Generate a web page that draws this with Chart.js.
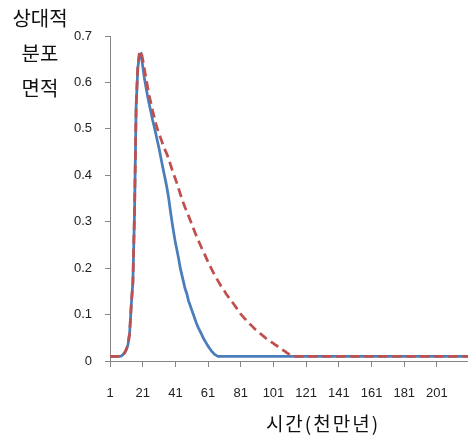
<!DOCTYPE html>
<html>
<head>
<meta charset="utf-8">
<script src="https://cdn.jsdelivr.net/npm/chart.js@4/dist/chart.umd.min.js"></script>
<style>
  html, body { margin: 0; padding: 0; background: #fff; }
  #wrap { width: 468px; height: 440px; }
</style>
</head>
<body>
<div id="wrap"><canvas id="myChart" width="468" height="440"></canvas></div>
<script>
// 축 제목
const yTitleLines = ['상대적', '분포', '면적'];
const xTitle = '시간(천만년)';

// x 눈금 (천만년)
const xTickLabels = [1, 21, 41, 61, 81, 101, 121, 141, 161, 181, 201];
const yTickLabels = [0, 0.1, 0.2, 0.3, 0.4, 0.5, 0.6, 0.7];

// 파란 실선
const blueTime = [1, 7, 8, 9, 10, 11, 12, 13, 14, 15, 16, 17, 18, 19, 20,
  21, 22, 23, 24, 25, 26, 27, 28, 29, 30, 31, 32, 33, 34, 35, 36, 37, 38, 39, 40,
  41, 42, 43, 44, 45, 46, 47, 48, 49, 50, 51, 52, 53, 54, 55, 56, 57, 58, 59, 60,
  61, 62, 63, 64, 65, 66, 67, 220];
const blueValues = [0.01, 0.01, 0.011, 0.014, 0.018, 0.025, 0.035, 0.06, 0.12, 0.17, 0.32, 0.55, 0.63, 0.66, 0.662,
  0.635, 0.61, 0.59, 0.57, 0.553, 0.537, 0.52, 0.505, 0.49, 0.474, 0.458, 0.44, 0.422, 0.405, 0.388, 0.37, 0.348, 0.322, 0.298, 0.276,
  0.255, 0.238, 0.22, 0.2, 0.185, 0.17, 0.155, 0.145, 0.13, 0.12, 0.11, 0.1, 0.09, 0.08, 0.072, 0.065, 0.058, 0.05, 0.044, 0.038,
  0.032, 0.027, 0.022, 0.018, 0.014, 0.012, 0.01, 0.01];

// 빨간 점선
const redTime = [1, 7, 8, 9, 10, 11, 12, 13, 14, 15, 16, 17, 18, 19, 20,
  21, 22, 23, 24, 25, 26, 27, 28, 29, 30, 31, 32, 33, 34, 35, 36, 37, 38, 39, 40,
  41, 42, 43, 44, 45, 46, 47, 48, 49, 50, 51, 52, 53, 54, 55, 56, 57, 58, 59, 60,
  61, 62, 63, 64, 65, 66, 67, 68, 69, 70, 71, 72, 73, 74, 75, 76, 77, 78, 79, 80,
  81, 82, 83, 84, 85, 86, 87, 88, 89, 90, 91, 92, 93, 94, 95, 96, 97, 98, 99, 100,
  101, 102, 103, 104, 105, 106, 107, 108, 109, 110, 111, 112, 113, 220];
const redValues = [0.01, 0.01, 0.011, 0.014, 0.018, 0.025, 0.035, 0.06, 0.12, 0.17, 0.32, 0.55, 0.635, 0.665, 0.667,
  0.65, 0.63, 0.61, 0.59, 0.572, 0.556, 0.54, 0.526, 0.512, 0.5, 0.49, 0.48, 0.47, 0.46, 0.452, 0.444, 0.434, 0.423, 0.412, 0.402,
  0.392, 0.382, 0.371, 0.36, 0.349, 0.339, 0.33, 0.322, 0.313, 0.304, 0.295, 0.286, 0.277, 0.268, 0.26, 0.252, 0.244, 0.236, 0.229, 0.221,
  0.213, 0.206, 0.199, 0.192, 0.185, 0.179, 0.173, 0.167, 0.161, 0.156, 0.151, 0.145, 0.14, 0.135, 0.13, 0.126, 0.121, 0.116, 0.111, 0.106,
  0.101, 0.097, 0.093, 0.089, 0.085, 0.081, 0.078, 0.075, 0.071, 0.068, 0.065, 0.062, 0.059, 0.056, 0.053, 0.05, 0.047, 0.045, 0.043, 0.04,
  0.038, 0.035, 0.033, 0.03, 0.028, 0.026, 0.023, 0.021, 0.018, 0.016, 0.013, 0.011, 0.01, 0.01];

const toPoints = (xs, ys) => xs.map((x, i) => ({ x: x, y: ys[i] }));

// 축 제목 그리기
const axisTitles = {
  id: 'axisTitles',
  afterDraw(chart) {
    const ctx = chart.ctx;
    const area = chart.chartArea;
    ctx.save();
    ctx.fillStyle = '#111';
    ctx.textAlign = 'center';
    ctx.textBaseline = 'middle';
    ctx.font = '20px "Noto Sans CJK KR"';
    yTitleLines.forEach((t, i) => ctx.fillText(t, 40, 18 + i * 35));
    ctx.font = '19px "Noto Sans CJK KR"';
    ctx.letterSpacing = '2px';
    ctx.fillText(xTitle, area.left + 213, 424);
    ctx.restore();
  }
};

const axisColor = '#868686';
const tickFont = { family: '"Liberation Sans", Arial, sans-serif', size: 13 };

new Chart(document.getElementById('myChart').getContext('2d'), {
  type: 'line',
  data: {
    datasets: [{
      label: 'red',
      data: toPoints(redTime, redValues),
      borderColor: '#C0504D',
      borderWidth: 2.75,
      borderDash: [9, 5],
      pointRadius: 0,
      tension: 0,
      fill: false
    }, {
      label: 'blue',
      data: toPoints(blueTime, blueValues),
      borderColor: '#4A7EBB',
      borderWidth: 2.75,
      pointRadius: 0,
      tension: 0,
      fill: false
    }]
  },
  options: {
    responsive: false,
    animation: false,
    layout: { padding: { top: 36, left: 0, right: 0, bottom: 0 } },
    plugins: {
      legend: { display: false },
      tooltip: { enabled: false }
    },
    scales: {
      x: {
        type: 'linear',
        min: 1,
        max: 220,
        afterBuildTicks: (scale) => { scale.ticks = xTickLabels.map(v => ({ value: v })); },
        afterFit: (scale) => { scale.height = 79; },
        ticks: {
          autoSkip: false,
          maxRotation: 0,
          padding: 19,
          color: '#222',
          font: tickFont,
          callback: (v) => String(v)
        },
        grid: { drawOnChartArea: false, drawTicks: true, tickLength: 6, color: axisColor },
        border: { color: axisColor, width: 1 }
      },
      y: {
        min: 0,
        max: 0.7,
        afterBuildTicks: (scale) => { scale.ticks = yTickLabels.map(v => ({ value: v })); },
        afterFit: (scale) => { scale.width = 110; },
        ticks: {
          padding: 13,
          color: '#222',
          font: tickFont,
          callback: (v) => (v === 0 ? '0' : v.toFixed(1))
        },
        grid: { drawOnChartArea: false, drawTicks: true, tickLength: 5, color: axisColor },
        border: { color: axisColor, width: 1 }
      }
    }
  },
  plugins: [axisTitles]
});
</script>
</body>
</html>
